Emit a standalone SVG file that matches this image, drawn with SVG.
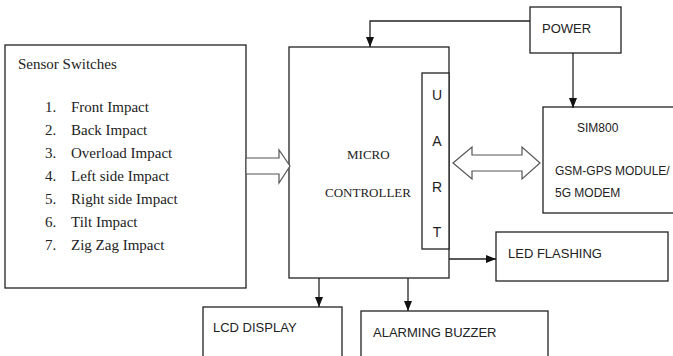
<svg xmlns="http://www.w3.org/2000/svg" width="673" height="356" viewBox="0 0 673 356">
<defs>
<style>
.box{fill:#fff;stroke:#222;stroke-width:1.3}
.ln{fill:none;stroke:#222;stroke-width:1.3}
.hol{fill:#fff;stroke:#555;stroke-width:1.2;stroke-linejoin:miter}
.tm{font-family:"Liberation Serif","Times New Roman",serif;fill:#222}
.sn{font-family:"Liberation Sans",Arial,sans-serif;fill:#222}
</style>
<marker id="ah" markerUnits="userSpaceOnUse" markerWidth="10" markerHeight="10" viewBox="0 0 10 10" refX="10" refY="5" orient="auto">
<path d="M0,1 L10,5 L0,9 z" fill="#111"/>
</marker>
</defs>
<rect width="673" height="356" fill="#fff"/>

<g id="sensor">
<rect class="box" x="5" y="45" width="241" height="243"/>
<text class="tm" x="18" y="69" font-size="15">Sensor Switches</text>
<g class="tm" font-size="15">
<text x="45" y="112">1.</text><text x="71" y="112">Front Impact</text>
<text x="45" y="135">2.</text><text x="71" y="135">Back Impact</text>
<text x="45" y="158">3.</text><text x="71" y="158">Overload Impact</text>
<text x="45" y="181">4.</text><text x="71" y="181">Left side Impact</text>
<text x="45" y="204">5.</text><text x="71" y="204">Right side Impact</text>
<text x="45" y="227">6.</text><text x="71" y="227">Tilt Impact</text>
<text x="45" y="250">7.</text><text x="71" y="250">Zig Zag Impact</text>
</g>
</g>

<g id="micro">
<rect class="box" x="289" y="47" width="160" height="231"/>
<text class="tm" x="347" y="159" font-size="13">MICRO</text>
<text class="tm" x="325" y="197" font-size="13">CONTROLLER</text>
</g>

<g id="uart">
<rect class="box" x="422" y="73" width="27" height="176"/>
<g class="sn" font-size="14" text-anchor="middle">
<text x="437" y="100">U</text>
<text x="437" y="146">A</text>
<text x="437" y="192">R</text>
<text x="437" y="237">T</text>
</g>
</g>

<g id="power">
<rect class="box" x="530" y="7" width="91" height="46"/>
<text class="sn" x="542" y="33" font-size="13">POWER</text>
</g>

<g id="sim">
<rect class="box" x="543" y="107" width="131" height="106"/>
<text class="sn" x="577" y="132" font-size="12">SIM800</text>
<text class="sn" x="555" y="175" font-size="12">GSM-GPS MODULE/</text>
<text class="sn" x="555" y="197" font-size="12">5G MODEM</text>
</g>

<g id="led">
<rect class="box" x="496" y="232" width="172" height="49"/>
<text class="sn" x="508" y="258" font-size="13">LED FLASHING</text>
</g>

<g id="lcd">
<rect class="box" x="203" y="307" width="139" height="52"/>
<text class="sn" x="213" y="332" font-size="13">LCD DISPLAY</text>
</g>

<g id="buzzer">
<rect class="box" x="361" y="311" width="187" height="50"/>
<text class="sn" x="373" y="337" font-size="13">ALARMING BUZZER</text>
</g>

<g id="connectors">
<path class="ln" d="M530,21 H370 V47" marker-end="url(#ah)"/>
<path class="ln" d="M573,53 V108" marker-end="url(#ah)"/>
<path class="ln" d="M449,259 H496" marker-end="url(#ah)"/>
<path class="ln" d="M319,278 V307" marker-end="url(#ah)"/>
<path class="ln" d="M408,278 V311" marker-end="url(#ah)"/>
<polygon class="hol" points="246,158 279,158 279,150 290,166 279,183 279,174 246,174"/>
<polygon class="hol" points="453,163 472,147 472,155 522,155 522,147 540,163 522,179 522,171 472,171 472,179"/>
</g>
</svg>
